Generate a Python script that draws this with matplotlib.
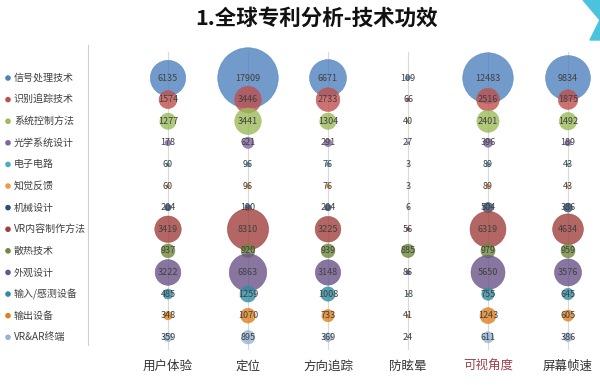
import matplotlib.pyplot as plt
import numpy as np
from matplotlib.patches import Polygon

plt.rcParams['font.family'] = ['Noto Sans CJK SC', 'DejaVu Sans']

effects = ['用户体验', '定位', '方向追踪', '防眩晕', '可视角度', '屏幕帧速']
techs = ['信号处理技术', '识别追踪技术', '系统控制方法', '光学系统设计', '电子电路', '知觉反馈',
         '机械设计', 'VR内容制作方法', '散热技术', '外观设计', '输入/感测设备', '输出设备', 'VR&AR终端']

signal = [6135, 17909, 6671, 109, 12483, 9834]
tracking = [1574, 3446, 2733, 66, 2516, 1875]
control = [1277, 3441, 1304, 40, 2401, 1492]
optics = [178, 621, 291, 27, 396, 189]
circuit = [60, 96, 76, 3, 89, 43]
feedback = [60, 96, 76, 3, 89, 43]
mechanical = [204, 190, 204, 6, 504, 386]
vr_content = [3419, 8310, 3225, 56, 6319, 4634]
cooling = [937, 920, 939, 885, 979, 959]
appearance = [3222, 6863, 3148, 86, 5650, 3576]
input_dev = [485, 1259, 1008, 18, 755, 645]
output_dev = [348, 1070, 733, 41, 1243, 605]
terminal = [359, 895, 369, 24, 611, 386]

series = [signal, tracking, control, optics, circuit, feedback, mechanical,
          vr_content, cooling, appearance, input_dev, output_dev, terminal]
colors = ['#4F81BD', '#C0504D', '#9BBB59', '#8064A2', '#4BACC6', '#F79646', '#2C4D75',
          '#A0403D', '#6F8A3A', '#6A5488', '#2E8DA3', '#E0801E', '#95B3D7']

W, H = 600, 385
fig = plt.figure(figsize=(6, 3.85), dpi=100)

# main bubble axes
ax = fig.add_axes([88 / W, 1 - 350 / H, 512 / W, 310 / H])
ax.set_xlim(-1, 5.4)
ax.set_ylim(12.59, -1.76)
for sp in ax.spines.values():
    sp.set_visible(False)
ax.tick_params(length=0)
ax.set_yticks([])
ax.set_xticks(range(len(effects)))
ax.set_xticklabels(effects, fontsize=9, color='#333333')
ax.tick_params(axis='x', pad=7)
ax.get_xticklabels()[4].set_color('#A0404A')
for x in range(len(effects)):
    ax.axvline(x, ymin=0.0, ymax=0.96, color='#d9d9d9', lw=0.8, zorder=0)

vmax = max(signal)
smax = 1900
for i, vals in enumerate(series):
    xs = np.arange(len(effects))
    ys = np.full(len(effects), i)
    sizes = np.array(vals) / vmax * smax
    ax.scatter(xs, ys, s=sizes, color=colors[i], alpha=0.8, edgecolors=colors[i],
               linewidths=0.4, zorder=2 + i * 0.01)
for i, vals in enumerate(series):
    for x, v in enumerate(vals):
        ax.text(x, i, str(v), ha='center', va='center', fontsize=6.5, color='#404040', zorder=5)

# legend on the left
lax = fig.add_axes([0, 1 - 350 / H, 88 / W, 310 / H])
lax.set_xlim(0, 88)
lax.set_ylim(12.59, -1.76)
lax.axis('off')
lax.scatter([8] * len(techs), range(len(techs)), s=9, color=colors)
for i, t in enumerate(techs):
    lax.text(14, i, t, ha='left', va='center', fontsize=7.2, color='#404040')

# separator
fig.add_artist(plt.Line2D([88 / W, 88 / W], [1 - 345 / H, 1 - 45 / H], color='#d0d0d0', lw=0.8))

fig.text(317 / W, 1 - 18 / H, '1.全球专利分析-技术功效', ha='center', va='center',
         fontsize=15.5, fontweight='bold', color='#111111')
fig.add_artist(Polygon([[583 / W, 1.0], [1.0, 1.0], [1.0, 1 - 40 / H], [590 / W, 1 - 40 / H], [600 / W, 1 - 20 / H]],
                       closed=True, color='#4BC3DE', transform=fig.transFigure))

plt.savefig('out.png', dpi=100)
